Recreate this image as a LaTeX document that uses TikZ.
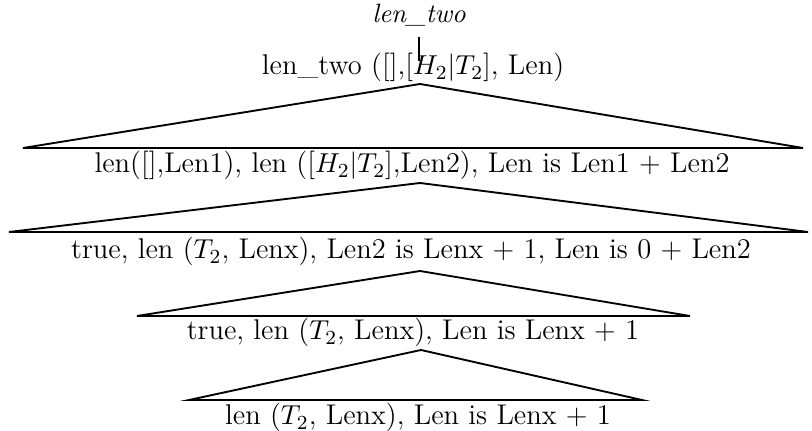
\documentclass[tikz,border=0pt]{standalone}
\begin{document}
\begin{tikzpicture}[x=0.4pt,y=-0.4pt,
  goal/.style={inner sep=0pt, anchor=base, font=\fontsize{11.4}{13.7}\selectfont},
  tri/.style={line width=0.75pt, line join=miter}]
\useasboundingbox (0,0) rectangle (812,431);
\node[goal, font=\fontsize{10.6}{12.7}\selectfont] (title) at (419,23) {\textit{len\_two}};
\node[goal] (g0) at (413,75) {len\_two ([],[$H_2|T_2$], Len)};
\node[goal] (g1) at (412,173) {len([],Len1), len ([$H_2|T_2$],Len2), Len is Len1 + Len2};
\node[goal] (g2) at (411,259) {true, len ($T_2$, Lenx), Len2 is Lenx + 1, Len is 0 + Len2};
\node[goal] (g3) at (413,340) {true, len ($T_2$, Lenx), Len is Lenx + 1};
\node[goal] (g4) at (418,425) {len ($T_2$, Lenx), Len is Lenx + 1};
\coordinate (v0) at (419,37);
\coordinate (v1) at (419,61);
\draw[tri] (v0) -- (v1);
% triangles
\coordinate (a1) at (420,84);  \coordinate (l1) at (23,148);  \coordinate (r1) at (803,148);
\coordinate (a2) at (420,183); \coordinate (l2) at (9,232);   \coordinate (r2) at (808,232);
\coordinate (a3) at (420,271); \coordinate (l3) at (137,316); \coordinate (r3) at (690,316);
\coordinate (a4) at (421,350); \coordinate (l4) at (189,400); \coordinate (r4) at (642,400);
\draw[tri] (a1) -- (l1) -- (r1) -- cycle;
\draw[tri] (a2) -- (l2) -- (r2) -- cycle;
\draw[tri] (a3) -- (l3) -- (r3) -- cycle;
\draw[tri] (a4) -- (l4) -- (r4) -- cycle;
\end{tikzpicture}
\end{document}
